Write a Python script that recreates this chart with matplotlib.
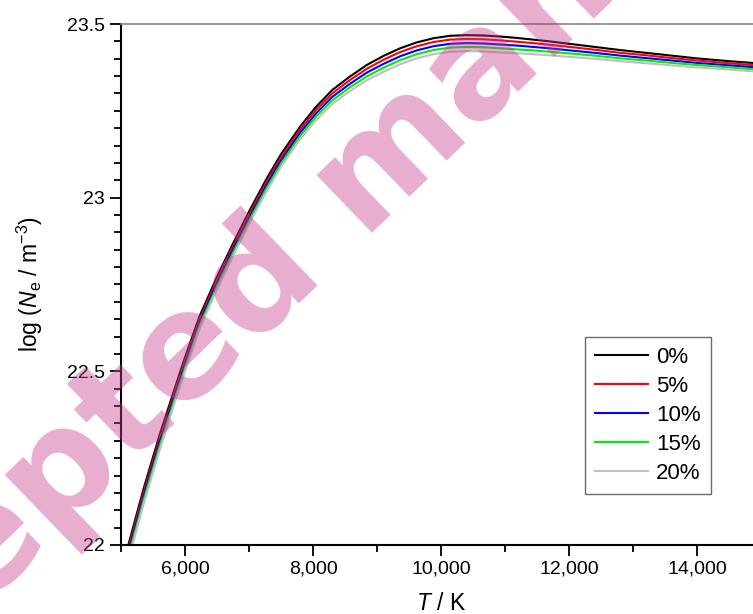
import numpy as np
import matplotlib.pyplot as plt
from matplotlib.ticker import MultipleLocator, FuncFormatter

plt.rcParams['font.family'] = ['Liberation Sans', 'DejaVu Sans']
plt.rcParams['mathtext.fontset'] = 'custom'
plt.rcParams['mathtext.rm'] = 'Liberation Sans'
plt.rcParams['mathtext.it'] = 'Liberation Sans:italic'

# temperature (K)
T = [5100, 5350, 5600, 5870, 6000, 6230, 6500, 6750, 7000, 7270, 7500, 7800,
     8050, 8300, 8570, 8840, 9100, 9360, 9620, 9880, 10140, 10400, 10660, 10920,
     11180, 11440, 11700, 11960, 12400, 12800, 13200, 13600, 14000, 14500, 15000]

# log(Ne / m^-3) for each mixture
ne_0 = [21.990, 22.160, 22.315, 22.468, 22.540, 22.660, 22.772, 22.868, 22.960, 23.053, 23.125, 23.205,
        23.262, 23.310, 23.348, 23.382, 23.408, 23.430, 23.447, 23.459, 23.466, 23.468, 23.467, 23.464,
        23.460, 23.455, 23.450, 23.444, 23.434, 23.425, 23.417, 23.409, 23.401, 23.393, 23.386]
ne_5 = [21.979, 22.149, 22.304, 22.458, 22.530, 22.651, 22.763, 22.859, 22.951, 23.044, 23.116, 23.196,
        23.253, 23.300, 23.338, 23.371, 23.397, 23.419, 23.436, 23.448, 23.455, 23.457, 23.456, 23.453,
        23.449, 23.445, 23.440, 23.435, 23.426, 23.417, 23.410, 23.402, 23.395, 23.387, 23.380]
ne_10 = [21.968, 22.138, 22.293, 22.448, 22.520, 22.642, 22.754, 22.850, 22.942, 23.035, 23.107, 23.187,
         23.243, 23.290, 23.327, 23.360, 23.385, 23.407, 23.424, 23.436, 23.443, 23.445, 23.444, 23.441,
         23.438, 23.434, 23.430, 23.425, 23.417, 23.409, 23.402, 23.395, 23.388, 23.381, 23.374]
ne_15 = [21.957, 22.127, 22.282, 22.438, 22.510, 22.633, 22.745, 22.841, 22.933, 23.026, 23.098, 23.178,
         23.234, 23.280, 23.317, 23.349, 23.374, 23.396, 23.413, 23.425, 23.432, 23.434, 23.433, 23.430,
         23.427, 23.424, 23.420, 23.416, 23.409, 23.401, 23.395, 23.388, 23.382, 23.375, 23.368]
ne_20 = [21.946, 22.116, 22.271, 22.428, 22.500, 22.624, 22.736, 22.832, 22.924, 23.017, 23.089, 23.169,
         23.224, 23.270, 23.306, 23.338, 23.362, 23.384, 23.401, 23.413, 23.420, 23.422, 23.421, 23.418,
         23.416, 23.413, 23.410, 23.406, 23.400, 23.393, 23.387, 23.381, 23.375, 23.369, 23.362]

labels = ['0%', '5%', '10%', '15%', '20%']
colors = ['black', 'red', 'blue', '#00ee00', '#c0c0c0']

fig = plt.figure(figsize=(7.53, 6.14), dpi=100)
# right edge of the axes lies just past the figure (cropped like the original)
ax = fig.add_axes([0.1607, 0.1124, 0.85, 0.8485])

for y, lab, c in zip([ne_0, ne_5, ne_10, ne_15, ne_20], labels, colors):
    ax.plot(T, y, color=c, lw=1.5, label=lab)

ax.set_xlim(5000, 15000)
ax.set_ylim(22, 23.5)

ax.xaxis.set_major_locator(MultipleLocator(2000))
ax.xaxis.set_minor_locator(MultipleLocator(1000))
ax.yaxis.set_major_locator(MultipleLocator(0.5))
ax.yaxis.set_minor_locator(MultipleLocator(0.05))
ax.xaxis.set_major_formatter(FuncFormatter(lambda v, p: f'{int(v):,}'))
ax.yaxis.set_major_formatter(FuncFormatter(lambda v, p: f'{v:g}'))

ax.tick_params(which='both', direction='out', top=False, right=False, labelsize=14, width=1.3)
ax.tick_params(which='major', length=8)
ax.tick_params(which='minor', length=5)
ax.spines['right'].set_visible(False)
ax.spines['top'].set_color('#888888')
ax.spines['top'].set_linewidth(1.2)
ax.spines['left'].set_linewidth(1.5)
ax.spines['bottom'].set_linewidth(1.5)

ax.set_xlabel(r'$\mathit{T}$ / K', fontsize=16.5, labelpad=10)
ax.set_ylabel(r'log ($\mathit{N}_\mathrm{e}$ / m$^{-3}$)', fontsize=16.5, labelpad=16)

leg = ax.legend(loc='upper left', bbox_to_anchor=(0.725, 0.399), fontsize=16,
                frameon=True, fancybox=False, edgecolor='#444444',
                handlelength=2.4, handletextpad=0.35, labelspacing=0.36,
                borderpad=0.45, borderaxespad=0)
leg.get_frame().set_linewidth(1.0)

# watermark
fig.text(0.501, 0.720, 'Accepted manuscript', fontsize=106, fontweight='heavy',
         color='#c83c8c', alpha=0.42, rotation=44, ha='center', va='center',
         rotation_mode='anchor', family='DejaVu Sans')

fig.savefig('out.png', dpi=100)
